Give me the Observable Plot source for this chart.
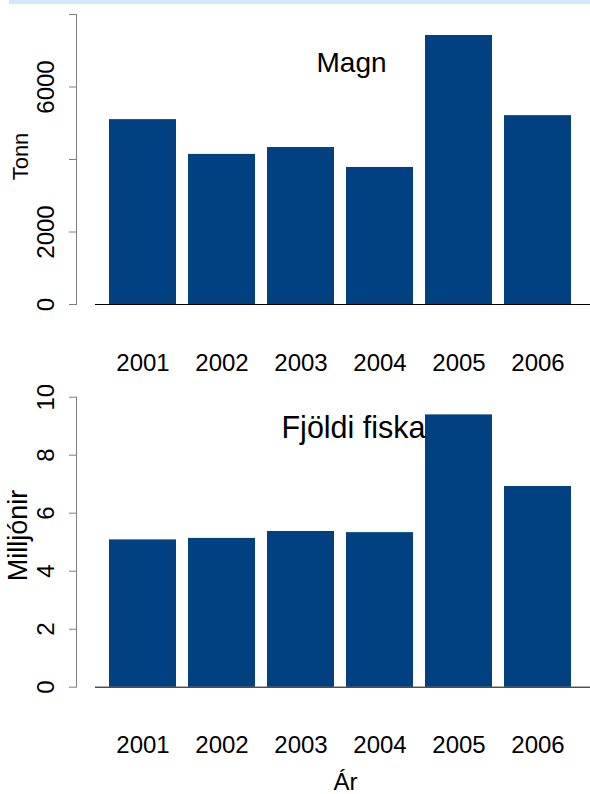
<!DOCTYPE html>
<html>
<head>
<meta charset="utf-8">
<script src="https://cdn.jsdelivr.net/npm/d3@7"></script>
<script src="https://cdn.jsdelivr.net/npm/@observablehq/plot@0.6"></script>
<style>
  html, body { margin: 0; padding: 0; background: #ffffff; }
  #wrap { position: relative; width: 590px; height: 794px; overflow: hidden; }
  #top, #bottom { position: absolute; left: 0; }
  #top { top: 0; }
  #bottom { top: 385px; }
  #band { position: absolute; left: 9px; top: 0; width: 581px; height: 4px; background: #cfeafb; }
</style>
</head>
<body>
<div id="wrap">
  <div id="top"></div>
  <div id="bottom"></div>
  <div id="band"></div>
</div>
<script>
const years = ["2001", "2002", "2003", "2004", "2005", "2006"];
const tonn = [5100, 4140, 4330, 3780, 7420, 5210];
const milljonir = [5.08, 5.13, 5.37, 5.33, 9.39, 6.92];

const topTicks = [0, 2000, 4000, 6000, 8000];
const topTickLabels = ["0", "2000", "", "6000", ""];
const bottomTicks = [0, 2, 4, 6, 8, 10];
const bottomTickLabels = ["0", "2", "4", "6", "8", "10"];

const topTitle = "Magn";
const bottomTitle = "Fjöldi fiska";
const topYLabel = "Tonn";
const bottomYLabel = "Milljónir";
const xLabel = "Ár";

const barColor = "#014181";
const axisGray = "#7f7f7f";
const font = "'Liberation Sans', Arial, Helvetica, sans-serif";

function panel({values, ticks, tickLabels, domain, height, marginTop, marginBottom, title, titleSize, titleDx, titleDy, ylabel, ylabelSize, ylabelDx, ylabelDy, extra = []}) {
  const data = years.map((y, i) => ({year: y, value: values[i]}));
  const lab = new Map(ticks.map((t, i) => [t, tickLabels[i]]));
  return Plot.plot({
    width: 590,
    height,
    marginLeft: 76,
    marginRight: 0,
    marginTop,
    marginBottom,
    style: {fontFamily: font, fontSize: "24px", background: "white", color: "black"},
    x: {domain: years, range: [95, 590], paddingInner: 0.158, paddingOuter: 0.204, align: 0.41, label: null},
    y: {domain, label: null},
    marks: [
      Plot.barY(data, {x: "year", y: "value", fill: barColor}),
      Plot.ruleY([0], {insetLeft: 19, stroke: "black", strokeWidth: 1}),
      Plot.frame({anchor: "left", stroke: axisGray}),
      Plot.axisY({ticks, tickFormat: (d) => lab.get(d), tickSize: 7, tickPadding: 33, tickRotate: -90, lineAnchor: "top", stroke: axisGray, fill: "black", fontSize: 24, label: null}),
      Plot.axisX({tickSize: 0, tickPadding: 49, fontSize: 24, label: null}),
      Plot.text([title], {frameAnchor: "top", textAnchor: "middle", lineAnchor: "top", dx: titleDx, dy: titleDy, fontSize: titleSize, fill: "black"}),
      Plot.text([ylabel], {frameAnchor: "left", textAnchor: "middle", rotate: -90, lineAnchor: "top", dx: ylabelDx, dy: ylabelDy, fontSize: ylabelSize, fill: "black"}),
      ...extra
    ]
  });
}

document.getElementById("top").append(panel({
  values: tonn, ticks: topTicks, tickLabels: topTickLabels, domain: [0, 8000],
  height: 385, marginTop: 14, marginBottom: 81,
  title: topTitle, titleSize: 28, titleDx: 18, titleDy: 38,
  ylabel: topYLabel, ylabelSize: 22, ylabelDx: -64.6, ylabelDy: -3
}));

document.getElementById("bottom").append(panel({
  values: milljonir, ticks: bottomTicks, tickLabels: bottomTickLabels, domain: [0, 10],
  height: 409, marginTop: 11.7, marginBottom: 107.3,
  title: bottomTitle, titleSize: 30.5, titleDx: 20, titleDy: 19,
  ylabel: bottomYLabel, ylabelSize: 27, ylabelDx: -68.2, ylabelDy: -6.7,
  extra: [Plot.text([xLabel], {frameAnchor: "bottom", textAnchor: "middle", lineAnchor: "top", dx: 12, dy: 85.3, fontSize: 24, fill: "black"})]
}));
</script>
</body>
</html>
